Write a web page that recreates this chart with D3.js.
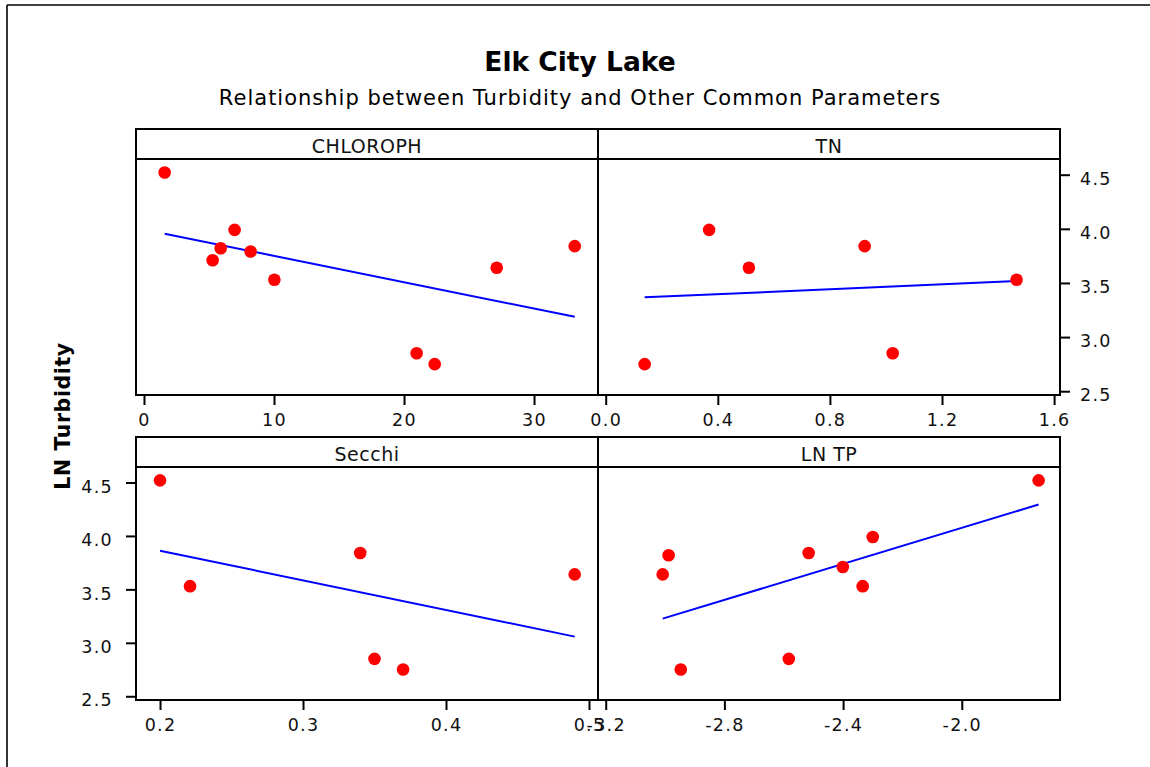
<!DOCTYPE html>
<html>
<head>
<meta charset="utf-8">
<script src="https://cdn.jsdelivr.net/npm/d3@7"></script>
<style>
  html, body { margin: 0; padding: 0; background: #fff; }
  svg { display: block; }
</style>
</head>
<body>
<svg id="chart" width="1150" height="767"></svg>
<script>
// ---------------- Data ----------------
const titleText = "Elk City Lake";
const subtitleText = "Relationship between Turbidity and Other Common Parameters";
const yLabelText = "LN Turbidity";
const panelNames = ["CHLOROPH", "TN", "Secchi", "LN TP"];

// CHLOROPH panel
const chlorophX = [1.59, 6.97, 5.90, 5.28, 8.20, 10.03, 20.97, 22.36, 27.13, 33.13];
const chlorophY = [4.52, 3.99, 3.82, 3.71, 3.79, 3.53, 2.85, 2.75, 3.64, 3.84];
const chlorophFitX = [1.59, 33.13];
const chlorophFitY = [3.955, 3.187];
const chlorophTicks = [0, 10, 20, 30];

// TN panel
const tnX = [0.139, 0.369, 0.511, 0.924, 1.024, 1.466];
const tnY = [2.75, 3.99, 3.64, 3.84, 2.85, 3.53];
const tnFitX = [0.139, 1.466];
const tnFitY = [3.367, 3.517];
const tnTicks = [0.0, 0.4, 0.8, 1.2, 1.6];

// Secchi panel
const secchiX = [0.200, 0.221, 0.340, 0.350, 0.370, 0.490];
const secchiY = [4.52, 3.53, 3.84, 2.85, 2.75, 3.64];
const secchiFitX = [0.200, 0.490];
const secchiFitY = [3.862, 3.058];
const secchiTicks = [0.2, 0.3, 0.4, 0.5];

// LN TP panel
const lnTpX = [-1.741, -2.988, -3.008, -2.516, -2.300, -2.401, -2.334, -2.947, -2.583];
const lnTpY = [4.52, 3.82, 3.64, 3.84, 3.99, 3.71, 3.53, 2.75, 2.85];
const lnTpFitX = [-3.008, -1.741];
const lnTpFitY = [3.226, 4.294];
const lnTpTicks = [-3.2, -2.8, -2.4, -2.0];

// Shared y axis (LN Turbidity)
const yTicks = [2.5, 3.0, 3.5, 4.0, 4.5];

// ---------------- Layout ----------------
const FONT = "'DejaVu Sans', Verdana, sans-serif";
const svg = d3.select("#chart");

const rows = [
  { top: 129, hdr: 159, bottom: 395 },
  { top: 437, hdr: 467, bottom: 700 }
];
const cols = [
  { left: 136, right: 598 },
  { left: 598, right: 1060 }
];
const yDomain = [2.465, 4.645];

const fmt1 = v => v.toFixed(1);
const fmt0 = v => String(v);

const panels = [
  { name: panelNames[0], row: 0, col: 0, xs: chlorophX, ys: chlorophY, fx: chlorophFitX, fy: chlorophFitY,
    ticks: chlorophTicks, fmt: fmt0, xDomain: [-0.615, 34.92] },
  { name: panelNames[1], row: 0, col: 1, xs: tnX, ys: tnY, fx: tnFitX, fy: tnFitY,
    ticks: tnTicks, fmt: fmt1, xDomain: [-0.0275, 1.621] },
  { name: panelNames[2], row: 1, col: 0, xs: secchiX, ys: secchiY, fx: secchiFitX, fy: secchiFitY,
    ticks: secchiTicks, fmt: fmt1, xDomain: [0.1832, 0.5063] },
  { name: panelNames[3], row: 1, col: 1, xs: lnTpX, ys: lnTpY, fx: lnTpFitX, fy: lnTpFitY,
    ticks: lnTpTicks, fmt: fmt1, xDomain: [-3.226, -1.669] }
];

// Outer frame (top + left edges visible)
svg.append("line").attr("x1", 7).attr("x2", 1150).attr("y1", 5).attr("y2", 5)
  .attr("stroke", "#000").attr("stroke-width", 1.6);
svg.append("line").attr("x1", 7).attr("x2", 7).attr("y1", 5).attr("y2", 767)
  .attr("stroke", "#000").attr("stroke-width", 1.6);

// Titles
svg.append("text").attr("x", 580).attr("y", 71).attr("text-anchor", "middle")
  .style("font-family", FONT).style("font-weight", "bold").style("font-size", "26.5px")
  .attr("fill", "#000").text(titleText);
svg.append("text").attr("x", 580).attr("y", 105).attr("text-anchor", "middle")
  .style("font-family", FONT).style("font-size", "21px").style("letter-spacing", "1px")
  .attr("fill", "#000").text(subtitleText);

// Y label
svg.append("text").attr("transform", "translate(70,416) rotate(-90)").attr("text-anchor", "middle")
  .style("font-family", FONT).style("font-weight", "bold").style("font-size", "20.5px")
  .style("letter-spacing", "0.6px")
  .attr("fill", "#000").text(yLabelText);

function styleAxis(g) {
  g.select(".domain").remove();
  g.selectAll(".tick line").attr("stroke", "#000").attr("stroke-width", 2);
  g.selectAll(".tick text").style("font-family", FONT).style("font-size", "17.5px")
    .style("letter-spacing", "1.3px").attr("fill", "#111");
}

panels.forEach(p => {
  const r = rows[p.row], c = cols[p.col];
  const x = d3.scaleLinear().domain(p.xDomain).range([c.left, c.right]);
  const y = d3.scaleLinear().domain(yDomain).range([r.bottom, r.hdr]);

  const g = svg.append("g");

  const clipId = "clip" + p.row + p.col;
  svg.append("clipPath").attr("id", clipId).append("rect")
    .attr("x", c.left).attr("y", r.hdr).attr("width", c.right - c.left).attr("height", r.bottom - r.hdr);

  const plot = g.append("g").attr("clip-path", `url(#${clipId})`);

  // fit line
  plot.append("line")
    .attr("x1", x(p.fx[0])).attr("y1", y(p.fy[0]))
    .attr("x2", x(p.fx[1])).attr("y2", y(p.fy[1]))
    .attr("stroke", "#0000ff").attr("stroke-width", 2);

  // points
  plot.selectAll("circle").data(p.xs.map((v, i) => [v, p.ys[i]])).enter().append("circle")
    .attr("cx", d => x(d[0])).attr("cy", d => y(d[1])).attr("r", 6.3)
    .attr("fill", "#ff0000");

  // header text
  g.append("text").attr("x", (c.left + c.right) / 2).attr("y", r.hdr - 6)
    .attr("text-anchor", "middle")
    .style("font-family", FONT).style("font-size", "19px").style("letter-spacing", "0.5px")
    .attr("fill", "#111").text(p.name);

  // x axis
  const xa = g.append("g").attr("transform", `translate(0,${r.bottom})`)
    .call(d3.axisBottom(x).tickValues(p.ticks).tickFormat(p.fmt).tickSize(10).tickPadding(9));
  styleAxis(xa);

  // y axis: top row on right of right panel, bottom row on left of left panel
  if (p.row === 0 && p.col === 1) {
    const ya = g.append("g").attr("transform", `translate(${c.right},0)`)
      .call(d3.axisRight(y).tickValues(yTicks).tickFormat(fmt1).tickSize(10).tickPadding(10));
    styleAxis(ya);
    ya.selectAll(".tick text").attr("dy", "0.55em");
  }
  if (p.row === 1 && p.col === 0) {
    const ya = g.append("g").attr("transform", `translate(${c.left},0)`)
      .call(d3.axisLeft(y).tickValues(yTicks).tickFormat(fmt1).tickSize(10).tickPadding(13));
    styleAxis(ya);
    ya.selectAll(".tick text").attr("dy", "0.55em");
  }
});

// Frames for rows (header box + panels + divider)
rows.forEach(r => {
  svg.append("rect").attr("x", cols[0].left).attr("y", r.top)
    .attr("width", cols[1].right - cols[0].left).attr("height", r.bottom - r.top)
    .attr("fill", "none").attr("stroke", "#000").attr("stroke-width", 2);
  svg.append("line").attr("x1", cols[0].left).attr("x2", cols[1].right)
    .attr("y1", r.hdr).attr("y2", r.hdr).attr("stroke", "#000").attr("stroke-width", 2);
  svg.append("line").attr("x1", cols[0].right).attr("x2", cols[0].right)
    .attr("y1", r.top).attr("y2", r.bottom).attr("stroke", "#000").attr("stroke-width", 2);
});
</script>
</body>
</html>
